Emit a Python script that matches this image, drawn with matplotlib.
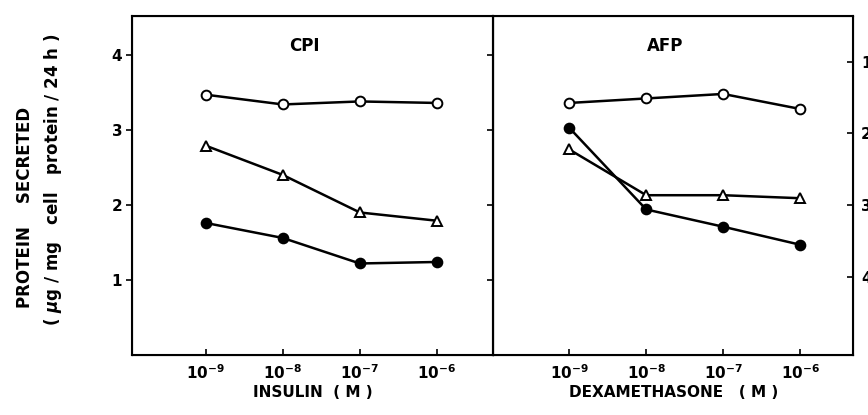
import matplotlib
matplotlib.use("Agg")
import matplotlib.pyplot as plt
import numpy as np

# log10 concentration (M)
conc = [-9, -8, -7, -6]
conc_labels = [r"$10^{-9}$", r"$10^{-8}$", r"$10^{-7}$", r"$10^{-6}$"]

# CPI panel (insulin)
cpi_open = [3.47, 3.34, 3.38, 3.36]
cpi_triangle = [2.79, 2.40, 1.90, 1.79]
cpi_filled = [1.76, 1.56, 1.22, 1.24]

# AFP panel (dexamethasone)
afp_open = [3.36, 3.42, 3.48, 3.28]
afp_triangle = [2.74, 2.13, 2.13, 2.09]
afp_filled = [3.03, 1.94, 1.71, 1.47]

right_ticks = [1, 2, 3, 4]

plt.rcParams["font.family"] = ["DejaVu Sans"]
plt.rcParams["font.weight"] = "bold"

fig = plt.figure(figsize=(8.68, 4.15), dpi=100)
ax1 = fig.add_axes([0.152, 0.1446, 0.416, 0.817])
ax2 = fig.add_axes([0.568, 0.1446, 0.415, 0.817])

line_kw = dict(color="black", linewidth=1.8, markersize=7, markeredgewidth=1.4)


def draw_panel(ax, opn, tri, fil, title):
    ax.plot(conc, opn, marker="o", markerfacecolor="white", **line_kw)
    ax.plot(conc, tri, marker="^", markerfacecolor="white", **line_kw)
    ax.plot(conc, fil, marker="o", markerfacecolor="black", **line_kw)
    ax.set_ylim(0, 4.52)
    ax.set_xticks(conc)
    ax.set_xticklabels(conc_labels, fontsize=11)
    ax.tick_params(axis="x", direction="in", length=4, width=1.2, pad=6)
    ax.text(0.478, 0.91, title, transform=ax.transAxes,
            ha="center", va="center", fontsize=12, fontweight="bold")
    for s in ax.spines.values():
        s.set_linewidth(1.5)


draw_panel(ax1, cpi_open, cpi_triangle, cpi_filled, "CPI")
draw_panel(ax2, afp_open, afp_triangle, afp_filled, "AFP")

ax1.set_xlim(-9.96, -5.27)
ax2.set_xlim(-9.99, -5.31)

ax1.set_yticks([1, 2, 3, 4])
ax1.set_yticklabels(["1", "2", "3", "4"], fontsize=11)
ax1.tick_params(axis="y", direction="out", length=4, width=1.2, pad=3)

# inward ticks on the shared divider
ax1r = ax1.twinx()
ax1r.set_ylim(0, 4.52)
ax1r.set_yticks([1, 2, 3, 4])
ax1r.set_yticklabels([])
ax1r.tick_params(axis="y", direction="in", length=4, width=1.2)

ax2.set_yticks([])

# secondary scale on the right, inverted (labels run off the edge as in the original)
ax2r = ax2.twinx()
ax2r.set_ylim(5.09, 0.36)
ax2r.set_yticks(right_ticks)
ax2r.set_yticklabels([str(t) for t in right_ticks], fontsize=11)
ax2r.tick_params(axis="y", direction="in", length=4, width=1.2, pad=5.5)

ax1.set_xlabel("INSULIN  ( M )", fontsize=11, fontweight="bold", labelpad=2)
ax2.set_xlabel("DEXAMETHASONE   ( M )", fontsize=11, fontweight="bold", labelpad=2)

fig.text(0.029, 0.5, "PROTEIN    SECRETED", rotation=90, ha="center", va="center",
         fontsize=12, fontweight="bold")
fig.text(0.061, 0.566, r"( $\mu$g / mg   cell   protein / 24 h )", rotation=90,
         ha="center", va="center", fontsize=12, fontweight="bold")

fig.savefig("out.png", dpi=100)
